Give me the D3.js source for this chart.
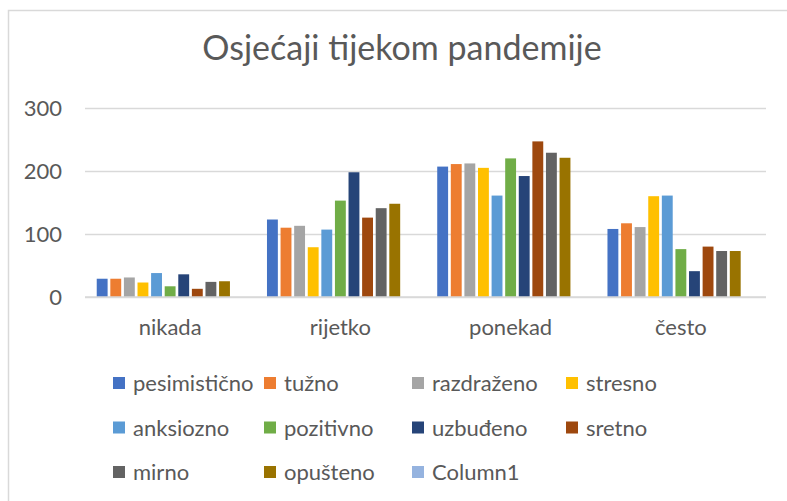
<!DOCTYPE html>
<html>
<head>
<meta charset="utf-8">
<script src="https://cdn.jsdelivr.net/npm/d3@7"></script>
<style>
	body { margin: 0; background: #fff; }
	text { font-family: Lato, "Open Sans", sans-serif; fill: #595959; }
</style>
</head>
<body>
<svg id="chart" width="787" height="501"></svg>
<script>
const title = 'Osjećaji tijekom pandemije';
const categories = ['nikada', 'rijetko', 'ponekad', 'često'];
const series = ['pesimistično', 'tužno', 'razdraženo', 'stresno', 'anksiozno', 'pozitivno', 'uzbuđeno', 'sretno', 'mirno', 'opušteno', 'Column1'];
const colors = ['#4472C4', '#ED7D31', '#A5A5A5', '#FFC000', '#5B9BD5', '#70AD47', '#264478', '#9E480E', '#636363', '#997300', '#95B3DF'];
// one array per series, values for nikada, rijetko, ponekad, često
const pesimisticno = [29, 123, 207, 108];
const tuzno = [29, 110, 211, 117];
const razdrazeno = [31, 113, 212, 111];
const stresno = [23, 79, 205, 160];
const anksiozno = [38, 107, 161, 161];
const pozitivno = [17, 153, 220, 76];
const uzbudeno = [36, 198, 192, 41];
const sretno = [13, 126, 247, 80];
const mirno = [24, 141, 229, 73];
const opusteno = [25, 148, 221, 73];
const column1 = [];
const yTicks = [0, 100, 200, 300];

const values = [pesimisticno, tuzno, razdrazeno, stresno, anksiozno, pozitivno, uzbudeno, sretno, mirno, opusteno, column1];

const svg = d3.select('#chart');

// chart area border (right and bottom edges fall outside the picture)
svg.append('rect')
	.attr('x', 8.5).attr('y', 10.5)
	.attr('width', 800).attr('height', 520)
	.attr('fill', 'none')
	.attr('stroke', '#D9D9D9')
	.attr('stroke-width', 1.5);

svg.append('text')
	.attr('x', 402).attr('y', 60)
	.attr('text-anchor', 'middle')
	.attr('font-size', '34px')
	.text(title);

const x0 = d3.scaleBand()
	.domain(categories)
	.range([85, 766])
	.paddingInner(0.1377)
	.paddingOuter(0.0689);

const x1 = d3.scaleBand()
	.domain(series)
	.range([0, x0.bandwidth()])
	.paddingInner(0.2);

const y = d3.scaleLinear()
	.domain([0, 300])
	.range([297, 108]);

// gridlines
const yAxis = d3.axisLeft(y).tickValues(yTicks).tickSize(-(766 - 85)).tickPadding(23);
const gy = svg.append('g').attr('transform', 'translate(85,0)').call(yAxis);
gy.select('.domain').remove();
gy.selectAll('line').attr('stroke', '#D9D9D9').attr('stroke-width', 1.3);
gy.selectAll('text')
	.attr('font-size', '22px')
	.attr('fill', '#595959')
	.attr('font-family', 'Lato, sans-serif');

// bars
const groups = svg.append('g').selectAll('g')
	.data(series)
	.enter()
	.append('g')
	.attr('fill', (d, i) => colors[i]);

groups.selectAll('rect')
	.data((d, i) => values[i].map((v, j) => ({cat: categories[j], s: d, v: v})))
	.enter()
	.append('rect')
	.attr('x', d => x0(d.cat) + x1(d.s))
	.attr('y', d => y(d.v))
	.attr('width', x1.bandwidth())
	.attr('height', d => y(0) - y(d.v));

// category axis
const xAxis = d3.axisBottom(x0).tickSize(0).tickPadding(22);
const gx = svg.append('g').attr('transform', `translate(0,${y(0)})`).call(xAxis);
gx.select('.domain').attr('stroke', '#D9D9D9').attr('stroke-width', 1.3).attr('d', 'M85,0H766');
gx.selectAll('text')
	.attr('font-size', '22px')
	.attr('fill', '#595959')
	.attr('font-family', 'Lato, sans-serif');

// legend
const legendX = [113, 264, 412, 566];
const legendY = [383, 427.5, 472];
const legend = svg.append('g').selectAll('g')
	.data(series)
	.enter()
	.append('g')
	.attr('transform', (d, i) => `translate(${legendX[i % 4]},${legendY[Math.floor(i / 4)]})`);
legend.append('rect')
	.attr('x', 0).attr('y', -6)
	.attr('width', 12).attr('height', 12)
	.attr('fill', (d, i) => colors[i]);
legend.append('text')
	.attr('x', 20).attr('y', 8)
	.attr('font-size', '22px')
	.text(d => d);
</script>
</body>
</html>
